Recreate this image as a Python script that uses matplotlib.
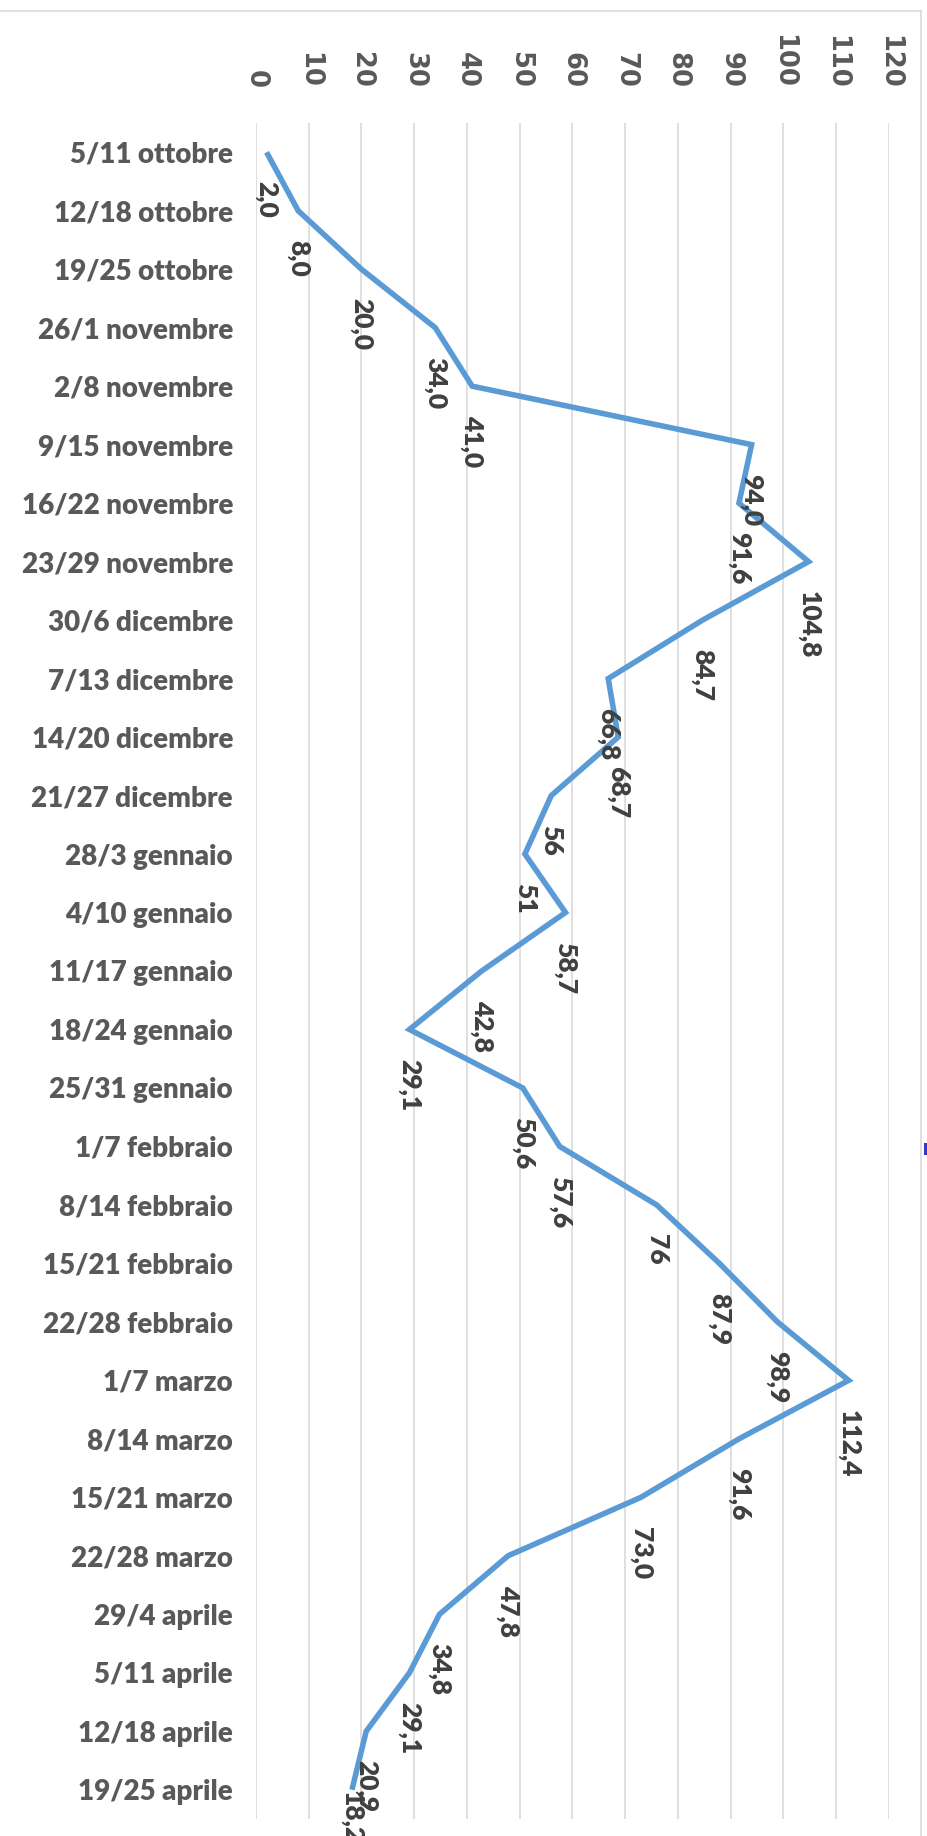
import matplotlib
matplotlib.use("Agg")
import matplotlib.pyplot as plt
from matplotlib.lines import Line2D
from matplotlib.patches import Rectangle

categories = [
    "5/11 ottobre", "12/18 ottobre", "19/25 ottobre", "26/1 novembre",
    "2/8 novembre", "9/15 novembre", "16/22 novembre", "23/29 novembre",
    "30/6 dicembre", "7/13 dicembre", "14/20 dicembre", "21/27 dicembre",
    "28/3 gennaio", "4/10 gennaio", "11/17 gennaio", "18/24 gennaio",
    "25/31 gennaio", "1/7 febbraio", "8/14 febbraio", "15/21 febbraio",
    "22/28 febbraio", "1/7 marzo", "8/14 marzo", "15/21 marzo",
    "22/28 marzo", "29/4 aprile", "5/11 aprile", "12/18 aprile",
    "19/25 aprile",
]
values = [2.0, 8.0, 20.0, 34.0, 41.0, 94.0, 91.6, 104.8, 84.7, 66.8, 68.7,
          56, 51, 58.7, 42.8, 29.1, 50.6, 57.6, 76, 87.9, 98.9, 112.4, 91.6,
          73.0, 47.8, 34.8, 29.1, 20.9, 18.2]
value_labels = ["2,0", "8,0", "20,0", "34,0", "41,0", "94,0", "91,6", "104,8",
                "84,7", "66,8", "68,7", "56", "51", "58,7", "42,8", "29,1",
                "50,6", "57,6", "76", "87,9", "98,9", "112,4", "91,6", "73,0",
                "47,8", "34,8", "29,1", "20,9", "18,2"]
x_ticks = list(range(0, 121, 10))

W, H = 928, 1836
fig = plt.figure(figsize=(W / 100, H / 100), dpi=100)
fig.patch.set_facecolor("white")

left, right = 256, 888.7
top, bottom = 123, 1819
ax = fig.add_axes([left / W, 1 - bottom / H, (right - left) / W, (bottom - top) / H])

pos = list(range(len(categories)))
ax.plot(values, pos, color="#5B9BD5", lw=4.0, solid_joinstyle="miter",
        solid_capstyle="butt", zorder=3, clip_on=False)

n = len(values)
for i, (v, lab) in enumerate(zip(values, value_labels)):
    off = -21 if i < n - 1 else -1
    ax.annotate(lab, (v, i), xytext=(0, off), textcoords="offset points",
                rotation=-90, ha="center", va="top", fontsize=19,
                fontfamily="Lato", fontweight="heavy", color="#404040",
                zorder=4, annotation_clip=False)

ax.set_xlim(0, 120)
ax.set_ylim(n - 0.5, -0.5)
ax.set_xticks(x_ticks)
ax.set_xticklabels([str(t) for t in x_ticks])
ax.set_yticks(pos)
ax.set_yticklabels(categories)
ax.xaxis.tick_top()
ax.tick_params(axis="x", length=0, pad=25, labelsize=18.5, labelcolor="#595959",
               labelrotation=-90)
ax.tick_params(axis="y", length=0, pad=16.5, labelsize=20, labelcolor="#595959")
for t in ax.get_xticklabels():
    t.set_fontfamily("DejaVu Sans")
    t.set_fontweight("bold")
for t in ax.get_yticklabels():
    t.set_fontfamily("Lato")
    t.set_fontweight("heavy")

ax.grid(axis="x", color="#D9D9D9", lw=1.2, zorder=0)
ax.grid(axis="y", visible=False)
for s in ax.spines.values():
    s.set_visible(False)
ax.set_facecolor("none")

# chart area frame (top and right edges visible)
fig.add_artist(Line2D([0, 921 / W], [1 - 11 / H, 1 - 11 / H], color="#D9D9D9",
                      lw=1.2, transform=fig.transFigure))
fig.add_artist(Line2D([921 / W, 921 / W], [1 - 11 / H, 0], color="#D9D9D9",
                      lw=1.2, transform=fig.transFigure))
# small blue fragment at right edge
fig.add_artist(Rectangle((924 / W, 1 - 1155 / H), 4 / W, 12 / H,
                         color="#3535D0", transform=fig.transFigure, lw=0))

fig.savefig("out.png", dpi=100, facecolor="white")
